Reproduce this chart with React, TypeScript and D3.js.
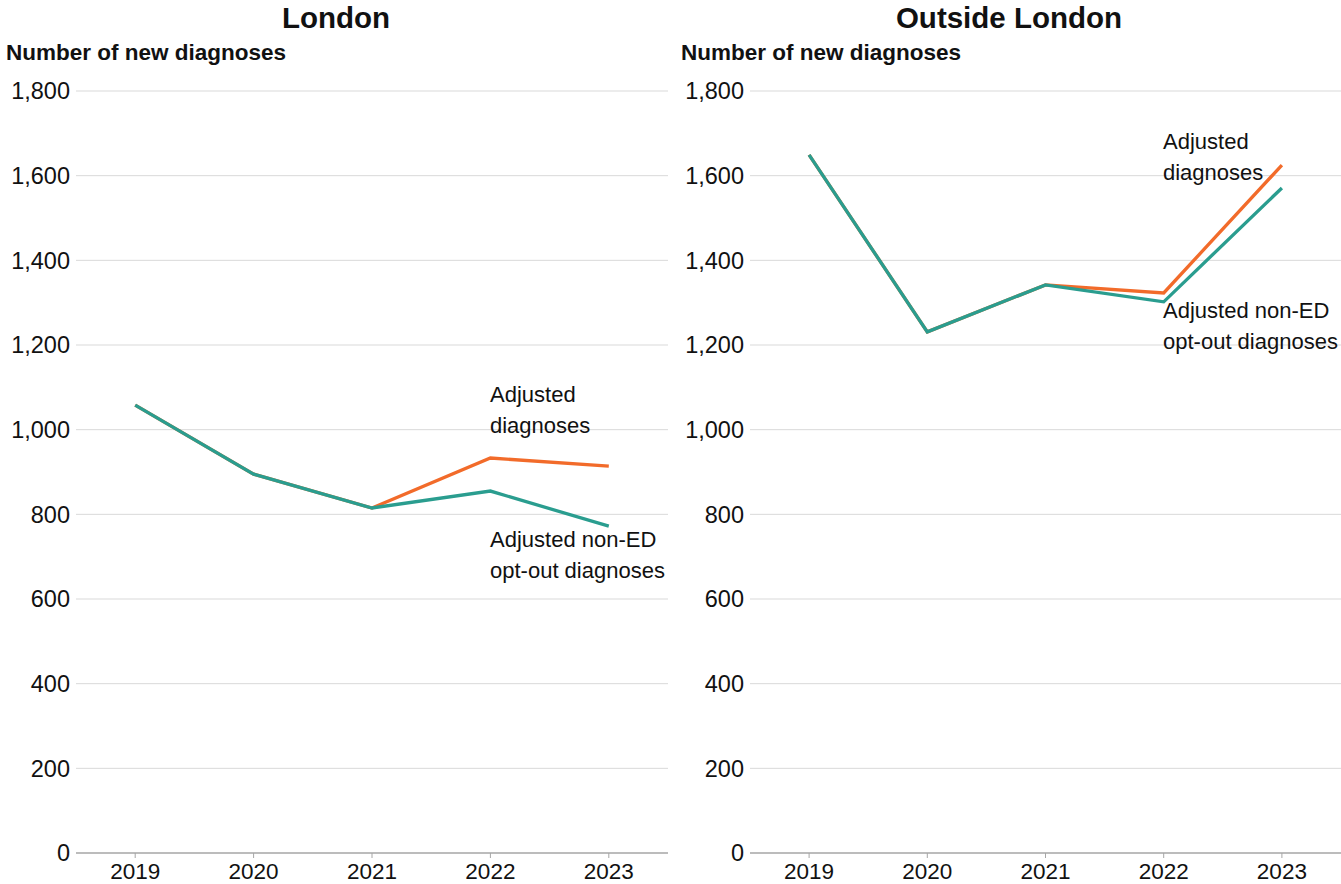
import React from "react";
import * as d3 from "d3";

const years = ["2019", "2020", "2021", "2022", "2023"];
const yTicks = [0, 200, 400, 600, 800, 1000, 1200, 1400, 1600, 1800];

const londonAdjusted = [1058, 895, 815, 933, 914];
const londonNonED = [1058, 895, 815, 855, 772];
const outsideAdjusted = [1649, 1231, 1342, 1323, 1625];
const outsideNonED = [1649, 1231, 1342, 1302, 1571];

const ORANGE = "#f26b2a";
const TEAL = "#2a9d8f";
const FONT = "'Liberation Sans', Arial, sans-serif";

type PanelProps = {
  title: string;
  titleX: number;
  labelX: number;
  x0: number;
  x1: number;
  adjusted: number[];
  nonED: number[];
  annAdj: [number, number];
  annNon: [number, number];
};

function Panel(p: PanelProps) {
  const y = d3.scaleLinear().domain([0, 1800]).range([853, 91]);
  const x = d3.scaleBand<string>().domain(years).range([p.x0, p.x1]);
  const cx = (d: string) => (x(d) as number) + x.bandwidth() / 2;
  const line = d3
    .line<number>()
    .x((_, i) => cx(years[i]))
    .y((v) => y(v));
  return (
    <g fontFamily={FONT}>
      <text x={p.titleX} y={28} textAnchor="middle" fontSize={29.5} fontWeight="bold" fill="#111">
        {p.title}
      </text>
      <text x={p.labelX} y={60} fontSize={22.5} fontWeight="bold" fill="#111">
        Number of new diagnoses
      </text>
      {yTicks.map((t) => (
        <g key={t}>
          {t > 0 && (
            <line x1={p.x0} x2={p.x1} y1={y(t)} y2={y(t)} stroke="#d9d9d9" strokeWidth={1} />
          )}
          <text x={p.x0 - 6} y={y(t)} dy="0.35em" textAnchor="end" fontSize={23.5} fill="#111">
            {d3.format(",")(t)}
          </text>
        </g>
      ))}
      <line x1={p.x0} x2={p.x1} y1={y(0)} y2={y(0)} stroke="#a6a6a6" strokeWidth={1.5} />
      {years.map((yr) => (
        <g key={yr}>
          <line x1={cx(yr)} x2={cx(yr)} y1={y(0)} y2={y(0) + 5} stroke="#a6a6a6" strokeWidth={1} />
          <text x={cx(yr)} y={879} textAnchor="middle" fontSize={22.5} fill="#111">
            {yr}
          </text>
        </g>
      ))}
      <path d={line(p.adjusted) || ""} fill="none" stroke={ORANGE} strokeWidth={3.3} />
      <path d={line(p.nonED) || ""} fill="none" stroke={TEAL} strokeWidth={3.3} />
      <text x={p.annAdj[0]} y={p.annAdj[1]} fontSize={22} fill="#111">
        <tspan x={p.annAdj[0]}>Adjusted</tspan>
        <tspan x={p.annAdj[0]} dy={31}>diagnoses</tspan>
      </text>
      <text x={p.annNon[0]} y={p.annNon[1]} fontSize={22} fill="#111">
        <tspan x={p.annNon[0]}>Adjusted non-ED</tspan>
        <tspan x={p.annNon[0]} dy={31}>opt-out diagnoses</tspan>
      </text>
    </g>
  );
}

export default function App() {
  return (
    <svg width={1341} height={884} style={{ position: "absolute", left: 0, top: 0, background: "#fff" }}>
      <rect width={1341} height={884} fill="#fff" />
      <Panel
        title="London"
        titleX={336}
        labelX={6}
        x0={76}
        x1={668}
        adjusted={londonAdjusted}
        nonED={londonNonED}
        annAdj={[490, 402]}
        annNon={[490, 547]}
      />
      <Panel
        title="Outside London"
        titleX={1009}
        labelX={681}
        x0={750}
        x1={1341}
        adjusted={outsideAdjusted}
        nonED={outsideNonED}
        annAdj={[1163, 149]}
        annNon={[1163, 318]}
      />
    </svg>
  );
}
